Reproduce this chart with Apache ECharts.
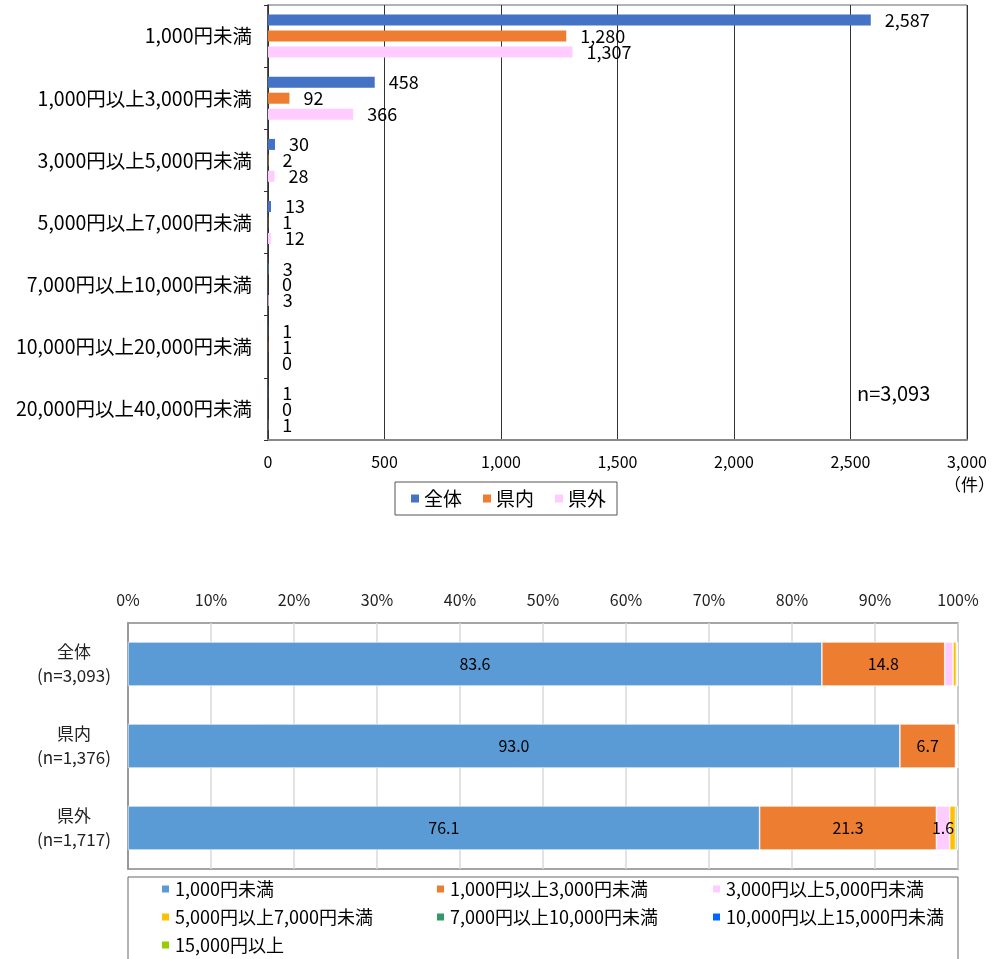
<!DOCTYPE html>
<html>
<head>
<meta charset="utf-8">
<script src="https://cdn.jsdelivr.net/npm/echarts@6/dist/echarts.min.js"></script>
<style>
  html, body { margin: 0; padding: 0; background: #fff; }
  #chart { width: 993px; height: 959px; }
</style>
</head>
<body>
<div id="chart"></div>
<script>
// top chart: counts by price band
const priceBands = ["1,000円未満", "1,000円以上3,000円未満", "3,000円以上5,000円未満", "5,000円以上7,000円未満",
  "7,000円以上10,000円未満", "10,000円以上20,000円未満", "20,000円以上40,000円未満"];
const countAll = [2587, 458, 30, 13, 3, 1, 1];
const countIn = [1280, 92, 2, 1, 0, 1, 0];
const countOut = [1307, 366, 28, 12, 3, 0, 1];

// bottom chart: share (%) by group
const groups = ["全体\n(n=3,093)", "県内\n(n=1,376)", "県外\n(n=1,717)"];
const shareBands = ["1,000円未満", "1,000円以上3,000円未満", "3,000円以上5,000円未満", "5,000円以上7,000円未満",
  "7,000円以上10,000円未満", "10,000円以上15,000円未満", "15,000円以上"];
const shares = [
  [83.6, 93.0, 76.1],
  [14.8, 6.7, 21.3],
  [1.0, 0.1, 1.6],
  [0.4, 0.1, 0.7],
  [0.1, 0.0, 0.2],
  [0.0, 0.1, 0.0],
  [0.1, 0.0, 0.1]
];
const shareColors = ["#5B9BD5", "#ED7D31", "#FFCCFF", "#FFC000", "#339966", "#0066FF", "#99CC00"];

const FONT = "Noto Sans CJK JP";
const chart = echarts.init(document.getElementById("chart"));

const topLabel = {
  show: true, position: "right", distance: 14, color: "#000", fontSize: 18, fontFamily: FONT,
  formatter: p => p.value.toLocaleString("en-US")
};
const topBar = (name, data, color) => ({
  name, type: "bar", xAxisIndex: 0, yAxisIndex: 0, data,
  barWidth: 11, barGap: "45%", itemStyle: { color }, label: topLabel
});

const bottomSeries = shareBands.map((name, i) => ({
  name, type: "bar", stack: "s", xAxisIndex: 1, yAxisIndex: 1, data: shares[i],
  barWidth: 44,
  itemStyle: { color: shareColors[i], borderColor: "#fff", borderWidth: 0.6 },
  label: {
    show: true, position: "inside", color: "#000", fontSize: 16, fontFamily: FONT,
    formatter: p => (p.value >= 1.5 ? p.value.toFixed(1) : "")
  }
}));

// one legend per column so the three columns line up
const legendCol = (left, data) => ({
  orient: "vertical", left, top: 875, height: 150, itemWidth: 9, itemHeight: 9, itemGap: 10,
  icon: "rect", data,
  textStyle: { fontSize: 18, color: "#000", fontFamily: FONT }
});

const option = {
  animation: false,
  textStyle: { fontFamily: FONT },
  grid: [
    { left: 268, top: 5, width: 699, height: 435, show: true, borderColor: "#666", borderWidth: 1 },
    { left: 128, top: 623, width: 830, height: 246, show: true, borderColor: "#888", borderWidth: 1.5 }
  ],
  xAxis: [
    {
      gridIndex: 0, type: "value", min: 0, max: 3000, interval: 500,
      axisLine: { show: true, lineStyle: { color: "#888", width: 2 } },
      axisTick: { show: false },
      splitLine: { lineStyle: { color: "#333", width: 1 } },
      axisLabel: { color: "#000", fontSize: 16, margin: 14, formatter: v => v.toLocaleString("en-US") }
    },
    {
      gridIndex: 1, type: "value", position: "top", min: 0, max: 100, interval: 10,
      axisLine: { show: false }, axisTick: { show: false },
      splitLine: { lineStyle: { color: "#d9d9d9", width: 1.5 } },
      axisLabel: { color: "#222", fontSize: 16, margin: 15, formatter: "{value}%" }
    }
  ],
  yAxis: [
    {
      gridIndex: 0, type: "category", data: priceBands, inverse: true,
      axisLine: { show: true, lineStyle: { color: "#333", width: 1.5 } },
      axisTick: { show: true, length: 4, lineStyle: { color: "#333" } },
      axisLabel: { color: "#000", fontSize: 19.5, margin: 16 }
    },
    {
      gridIndex: 1, type: "category", data: groups, inverse: true,
      axisLine: { show: true, lineStyle: { color: "#888", width: 1.5 } },
      axisTick: { show: false },
      axisLabel: { color: "#222", fontSize: 17, lineHeight: 24, align: "center", margin: 54 }
    }
  ],
  legend: [
    {
      data: ["全体", "県内", "県外"], left: 395, top: 482, orient: "horizontal",
      itemWidth: 8, itemHeight: 8, itemGap: 21, icon: "rect",
      padding: [7, 11, 7, 16], borderColor: "#555", borderWidth: 1,
      textStyle: { fontSize: 19, color: "#000", fontFamily: FONT }
    },
    legendCol(155, [shareBands[0], shareBands[3], shareBands[6]]),
    legendCol(430, [shareBands[1], shareBands[4]]),
    legendCol(706, [shareBands[2], shareBands[5]])
  ],
  graphic: [
    { type: "text", left: 857, top: 383, style: { text: "n=3,093", fontSize: 20, fill: "#000", fontFamily: FONT } },
    { type: "text", left: 944, top: 476, style: { text: "（件）", fontSize: 17, fill: "#000", fontFamily: FONT } },
    { type: "rect", shape: { x: 128, y: 877, width: 830, height: 100 }, style: { fill: "none", stroke: "#666", lineWidth: 1 } }
  ],
  series: [
    topBar("全体", countAll, "#4472C4"),
    topBar("県内", countIn, "#ED7D31"),
    topBar("県外", countOut, "#FFCCFF"),
    ...bottomSeries
  ]
};
chart.setOption(option);
</script>
</body>
</html>
